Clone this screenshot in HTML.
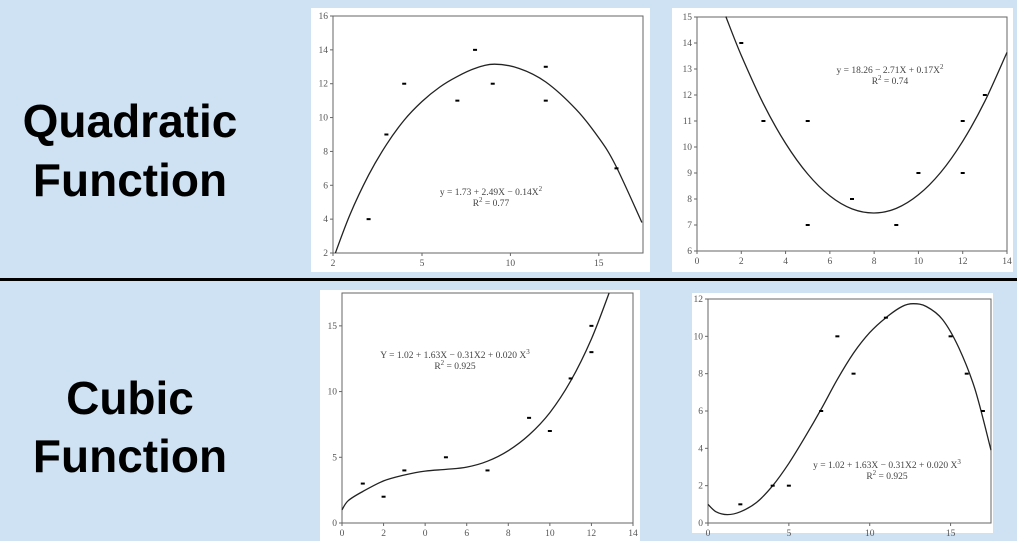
<!DOCTYPE html>
<html><head><meta charset="utf-8"><style>
body{margin:0;width:1017px;height:541px;overflow:hidden;background:#cfe2f3;}
svg{display:block}
.lbl{font-family:"Liberation Sans",sans-serif;font-weight:bold;font-size:46px;fill:#000}
.tk{font-family:"Liberation Serif",serif;font-size:9.5px;fill:#555}
.eq{font-family:"Liberation Serif",serif;font-size:9.5px;fill:#444}
</style></head><body>
<svg id="root" width="1017" height="541" viewBox="0 0 1017 541">
<rect width="1017" height="541" fill="#cfe2f3"/>
<text class="lbl" x="130" y="137" text-anchor="middle">Quadratic</text>
<text class="lbl" x="130" y="196" text-anchor="middle">Function</text>
<text class="lbl" x="130" y="414" text-anchor="middle">Cubic</text>
<text class="lbl" x="130" y="472" text-anchor="middle">Function</text>
<rect x="0" y="278" width="1017" height="3" fill="#000"/>
</svg>
<script>
// ---- Chart 1: quadratic (concave) ----
const q1PointsX=[3.2,3.8,4.4,7,8,9,12,12,16];
const q1PointsY=[4,9,12,11,14,12,13,11,7];
const q1CurveX=[2.08,2.58,3.2,3.8,4.4,5,6,6.95,7.98,9.1,10.5,12,13.7,15,15.94,17.44];
const q1CurveY=[2,4.3,6.6,8.4,9.85,10.95,11.8,12.4,12.9,13.15,12.9,12.1,10.5,8.8,7.2,3.8];
const q1XTicks=[2,5,10,15];
const q1YTicks=[2,4,6,8,10,12,14,16];
// ---- Chart 2: quadratic (convex) ----
const q2PointsX=[2,3,5,5,7,9,10,12,12,13];
const q2PointsY=[14,11,11,7,8,7,9,11,9,12];
const q2CurveX=[1.3,2,3,4,5,6,7,8,9,10,11,12,13,14];
const q2CurveY=[15.02,13.52,11.66,10.14,8.96,8.12,7.62,7.46,7.64,8.16,9.02,10.22,11.76,13.64];
const q2XTicks=[0,2,4,6,8,10,12,14];
const q2YTicks=[6,7,8,9,10,11,12,13,14,15];
// ---- Chart 3: cubic (increasing) ----
const c1PointsX=[1,2,3,5,7,9,10,11,12,12];
const c1PointsY=[3,2,4,5,4,8,7,11,15,13];
const c1CurveX=[0,0.3,1,2,3,4,5,6,7,8,9,10,11,12,12.85];
const c1CurveY=[1,1.7,2.4,3.2,3.65,3.95,4.08,4.25,4.7,5.5,6.7,8.4,10.8,14,17.5];
const c1XTicks=[0,2,4,6,8,10,12,14];
const c1XLabels=["0","2","0","6","8","10","12","14"];
const c1YTicks=[0,5,10,15];
// ---- Chart 4: cubic (hump) ----
const c2PointsX=[2,4,5,7,8,9,11,15,16,17];
const c2PointsY=[1,2,2,6,10,8,11,10,8,6];
const c2CurveX=[0,0.5,1.2,2,3,4,5,6,7,8,9,10,11,12,12.7,13.5,14.5,15.5,16.5,17.5];
const c2CurveY=[1,0.6,0.45,0.6,1.1,2,3.2,4.6,6.1,7.7,9.1,10.2,11,11.6,11.75,11.6,10.9,9.4,7.2,3.9];
const c2XTicks=[0,5,10,15];
const c2YTicks=[0,2,4,6,8,10,12];

const NS='http://www.w3.org/2000/svg';
const root=document.getElementById('root');
function mk(tag,attrs,parent){const e=document.createElementNS(NS,tag);for(const k in attrs)e.setAttribute(k,attrs[k]);(parent||root).appendChild(e);return e;}
function smooth(pts){
  let d='M'+pts[0][0].toFixed(1)+','+pts[0][1].toFixed(1);
  for(let i=0;i<pts.length-1;i++){
    const p0=pts[i-1]||pts[i],p1=pts[i],p2=pts[i+1],p3=pts[i+2]||p2;
    const c1x=p1[0]+(p2[0]-p0[0])/6,c1y=p1[1]+(p2[1]-p0[1])/6;
    const c2x=p2[0]-(p3[0]-p1[0])/6,c2y=p2[1]-(p3[1]-p1[1])/6;
    d+='C'+c1x.toFixed(1)+','+c1y.toFixed(1)+' '+c2x.toFixed(1)+','+c2y.toFixed(1)+' '+p2[0].toFixed(1)+','+p2[1].toFixed(1);
  }
  return d;
}
function chart(cfg){
  const g=mk('g',{});
  
  
  const panel=mk('rect',{x:cfg.panel[0],y:cfg.panel[1],width:cfg.panel[2],height:cfg.panel[3],fill:'#fff'},g);
  
  
  const [L,T,R,B]=cfg.plot;
  const sx=cfg.sx, sy=v=>B-(v-cfg.ymin)/(cfg.ymax-cfg.ymin)*(B-T);
  const frame=mk('rect',{x:L,y:T,width:R-L,height:B-T,fill:'none',stroke:'#666','stroke-width':1},g);
  
  
  cfg.xt.forEach((v,i)=>{
    const x=sx(v);
    const t=mk('line',{x1:x,y1:B,x2:x,y2:B+3,stroke:'#666'},g);
    
    
    const tx=mk('text',{x:x,y:B+13,'text-anchor':'middle',class:'tk'},g);
    tx.textContent=cfg.xl?cfg.xl[i]:String(v);
    
    
  });
  cfg.yt.forEach(v=>{
    const y=sy(v);
    const t=mk('line',{x1:L-3,y1:y,x2:L,y2:y,stroke:'#666'},g);
    
    
    const tx=mk('text',{x:L-5,y:y+3,'text-anchor':'end',class:'tk'},g);
    tx.textContent=String(v);
    
    
  });
  const pts=cfg.cx.map((v,i)=>[sx(v),sy(cfg.cy[i])]);
  const p=mk('path',{d:smooth(pts),fill:'none',stroke:'#222','stroke-width':1.3},g);
  
  
  cfg.px.forEach((v,i)=>{
    const r=mk('rect',{x:sx(v)-2,y:sy(cfg.py[i])-1,width:4,height:2,fill:'#000'},g);
    
    
  });
  cfg.eq.forEach((s,i)=>{
    const t=mk('text',{x:cfg.eqx,y:cfg.eqy+i*11,'text-anchor':'middle',class:'eq'},g);
    t.innerHTML=s;
    
    
  });
}
function lin(d0,d1,p0,p1){return v=>p0+(v-d0)/(d1-d0)*(p1-p0);}
function piece(dv,pv){return v=>{for(let i=0;i<dv.length-1;i++){if(v<=dv[i+1]||i==dv.length-2)return pv[i]+(v-dv[i])/(dv[i+1]-dv[i])*(pv[i+1]-pv[i]);}};}

chart({name:'quadratic-chart-1',panel:[311,8,339,264],plot:[333,16,643,253],
  sx:piece([2,5,17.5],[333,422,643]),ymin:2,ymax:16,xt:q1XTicks,yt:q1YTicks,
  px:q1PointsX,py:q1PointsY,cx:q1CurveX,cy:q1CurveY,
  eq:['y = 1.73 + 2.49X − 0.14X<tspan dy="-4" font-size="7">2</tspan>','R<tspan dy="-4" font-size="7">2</tspan><tspan dy="4"> = 0.77</tspan>'],eqx:491,eqy:195});
chart({name:'quadratic-chart-2',panel:[672,8,341,264],plot:[697,17,1007,251],
  sx:lin(0,14,697,1007),ymin:6,ymax:15,xt:q2XTicks,yt:q2YTicks,
  px:q2PointsX,py:q2PointsY,cx:q2CurveX,cy:q2CurveY,
  eq:['y = 18.26 − 2.71X + 0.17X<tspan dy="-4" font-size="7">2</tspan>','R<tspan dy="-4" font-size="7">2</tspan><tspan dy="4"> = 0.74</tspan>'],eqx:890,eqy:73});
chart({name:'cubic-chart-1',panel:[320,290,320,251],plot:[342,293,633,523],
  sx:lin(0,14,342,633),ymin:0,ymax:17.5,xt:c1XTicks,xl:c1XLabels,yt:c1YTicks,
  px:c1PointsX,py:c1PointsY,cx:c1CurveX,cy:c1CurveY,
  eq:['Y = 1.02 + 1.63X − 0.31X2 + 0.020 X<tspan dy="-4" font-size="7">3</tspan>','R<tspan dy="-4" font-size="7">2</tspan><tspan dy="4"> = 0.925</tspan>'],eqx:455,eqy:358});
chart({name:'cubic-chart-2',panel:[692,293,301,240],plot:[708,299,991,523],
  sx:lin(0,17.5,708,991),ymin:0,ymax:12,xt:c2XTicks,yt:c2YTicks,
  px:c2PointsX,py:c2PointsY,cx:c2CurveX,cy:c2CurveY,
  eq:['y = 1.02 + 1.63X − 0.31X2 + 0.020 X<tspan dy="-4" font-size="7">3</tspan>','R<tspan dy="-4" font-size="7">2</tspan><tspan dy="4"> = 0.925</tspan>'],eqx:887,eqy:468});
</script>
</body></html>
